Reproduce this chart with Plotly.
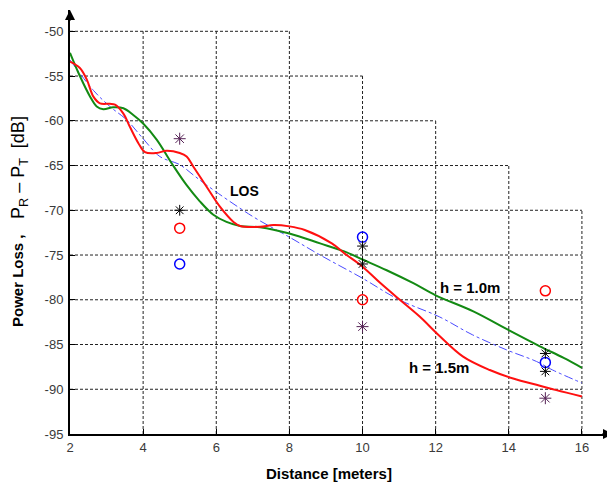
import plotly.graph_objects as go

# ---- data ----
green_x = [2.0, 2.27, 2.55, 2.73, 2.91, 3.18, 3.46, 3.73, 4.0, 4.37, 4.82, 5.19, 5.55, 5.92,
           6.28, 6.65, 7.2, 8.0, 8.84, 9.5, 10.0, 10.66, 11.39, 12.0, 13.03, 14.0, 14.85, 15.5, 16.0]
green_y = [-52.4, -55.0, -57.3, -58.4, -58.7, -58.5, -58.6, -59.35, -60.3, -62.1, -65.0, -67.2, -69.0, -70.5,
           -71.3, -71.75, -71.9, -72.6, -73.7, -74.6, -75.5, -76.7, -78.15, -79.5, -81.3, -83.4, -85.2, -86.5, -87.6]

red_x = [2.0, 2.27, 2.46, 2.64, 2.82, 3.09, 3.23, 3.46, 3.64, 3.87, 4.05, 4.37, 4.64, 5.0, 5.19, 5.37,
         5.74, 6.1, 6.47, 6.65, 7.2, 7.56, 8.0, 8.42, 9.16, 9.5, 10.0, 10.48, 11.02, 11.57, 12.07,
         12.75, 13.48, 14.12, 14.85, 15.3, 16.0]
red_y = [-53.4, -54.1, -55.4, -57.3, -58.05, -58.1, -58.2, -59.2, -60.7, -62.5, -63.5, -63.6, -63.35, -63.6,
         -64.0, -65.1, -67.4, -69.6, -71.3, -71.75, -71.85, -71.65, -71.8, -72.2, -73.7, -74.8, -76.3,
         -78.1, -80.0, -81.9, -83.9, -86.35, -87.85, -88.8, -89.6, -90.1, -90.8]

los_x = [2.0, 2.64, 3.09, 3.55, 4.0, 4.46, 5.0, 5.37, 5.74, 7.0, 8.0, 8.84, 10.0, 11.0, 12.1, 13.0,
         13.94, 14.76, 15.2, 16.0]
los_y = [-53.2, -56.6, -58.4, -59.9, -62.0, -64.0, -64.9, -66.05, -67.2, -70.7, -73.0, -75.0, -77.6,
         -80.0, -81.9, -83.9, -85.6, -86.9, -87.85, -89.3]

red_circ_x = [5, 10, 15]
red_circ_y = [-72, -80, -79]
blue_circ_x = [5, 10, 15]
blue_circ_y = [-76, -73, -87]
black_star_x = [5, 10, 10, 15, 15]
black_star_y = [-70, -74, -76, -86, -88]
purple_star_x = [5, 10, 15]
purple_star_y = [-62, -83, -91]

x_ticks = [2, 4, 6, 8, 10, 12, 14, 16]
y_ticks = [-95, -90, -85, -80, -75, -70, -65, -60, -55, -50]

X_RANGE = [2, 16.85]
Y_RANGE = [-95, -47.62]

fig = go.Figure()

# staircase dashed grid
grid_style = dict(color="#222222", width=1, dash="3px,2px")
for yv in y_ticks[1:]:
    x_end = min(16, 8 + 2 * (-50 - yv) / 5)
    fig.add_shape(type="line", x0=2, x1=x_end, y0=yv, y1=yv, xref="x", yref="y",
                  line=grid_style, layer="below")
for xv in x_ticks[1:]:
    y_top = min(-50, -50 - (xv - 8) * 2.5)
    fig.add_shape(type="line", x0=xv, x1=xv, y0=-95, y1=y_top, xref="x", yref="y",
                  line=grid_style, layer="below")

fig.add_trace(go.Scatter(x=los_x, y=los_y, mode="lines", line=dict(color="#4a4aff", width=1, dash="dashdot"),
                         line_shape="spline"))
fig.add_trace(go.Scatter(x=green_x, y=green_y, mode="lines", line=dict(color="#138a13", width=2),
                         line_shape="spline"))
fig.add_trace(go.Scatter(x=red_x, y=red_y, mode="lines", line=dict(color="#ff1010", width=2),
                         line_shape="spline"))

fig.add_trace(go.Scatter(x=red_circ_x, y=red_circ_y, mode="markers",
                         marker=dict(symbol="circle-open", size=10, color="#ff0000", line=dict(width=1.5, color="#ff0000"))))
fig.add_trace(go.Scatter(x=blue_circ_x, y=blue_circ_y, mode="markers",
                         marker=dict(symbol="circle-open", size=10, color="#0000ff", line=dict(width=1.5, color="#0000ff"))))
fig.add_trace(go.Scatter(x=black_star_x, y=black_star_y, mode="markers",
                         marker=dict(symbol="asterisk-open", size=9, color="#000000", line=dict(width=1, color="#000000"))))
fig.add_trace(go.Scatter(x=purple_star_x, y=purple_star_y, mode="markers",
                         marker=dict(symbol="asterisk-open", size=10, color="#552255", line=dict(width=1, color="#552255"))))

tick_font = dict(family="Liberation Sans, Arial, sans-serif", size=13, color="#3a3a3a")
fig.update_xaxes(range=X_RANGE, tickvals=x_ticks, ticktext=[str(v) for v in x_ticks],
                 showgrid=False, zeroline=False, showline=True, linecolor="black", linewidth=2,
                 ticks="inside", ticklen=5, tickwidth=1, tickcolor="black", tickfont=tick_font)
fig.update_yaxes(range=Y_RANGE, tickvals=y_ticks, ticktext=[str(v) for v in y_ticks],
                 showgrid=False, zeroline=False, showline=True, linecolor="black", linewidth=2,
                 ticks="inside", ticklen=5, tickwidth=1, tickcolor="black", tickfont=tick_font,
                 ticklabelstandoff=2)

# axis arrows
fig.add_annotation(x=1, y=0, xref="paper", yref="paper", ax=-12, ay=0, text="", showarrow=True,
                   arrowhead=2, arrowsize=1, arrowwidth=2, arrowcolor="black")
fig.add_annotation(x=0, y=1, xref="paper", yref="paper", ax=0, ay=12, text="", showarrow=True,
                   arrowhead=2, arrowsize=1, arrowwidth=2, arrowcolor="black")

lab_font = dict(family="Liberation Sans, Arial, sans-serif", size=14, color="black")
fig.add_annotation(x=6.76, y=-67.84, text="<b>LOS</b>", showarrow=False, font=lab_font)
fig.add_annotation(x=12.94, y=-78.68, text="<b>h = 1.0m</b>", showarrow=False,
                   font=dict(family="Liberation Sans, Arial, sans-serif", size=15, color="black"))
fig.add_annotation(x=12.09, y=-87.6, text="<b>h = 1.5m</b>", showarrow=False,
                   font=dict(family="Liberation Sans, Arial, sans-serif", size=15, color="black"))

# page offset (browser body margin) and layout in page pixels
OFF = 8
W, H = 615 - OFF, 487 - OFF
L, R, T, B = 70 - OFF, 2, 10 - OFF, 53
pw, ph = W - L - R, H - T - B

def px_to_paper(px, py):
    return (px - OFF - L) / pw, (H - B - (py - OFF)) / ph

# axis titles (positions given in page pixels)
ax_, ay_ = px_to_paper(329, 473)
fig.add_annotation(x=ax_, y=ay_, xref="paper", yref="paper", xanchor="center", yanchor="middle",
                   text="<b>Distance [meters]</b>",
                   showarrow=False, font=dict(family="Liberation Sans, Arial, sans-serif", size=15, color="black"))
ax_, ay_ = px_to_paper(17, 281)
fig.add_annotation(x=ax_, y=ay_, xref="paper", yref="paper", xanchor="center", yanchor="middle",
                   text="<b>Power Loss ,</b>", textangle=-90,
                   showarrow=False, font=dict(family="Liberation Sans, Arial, sans-serif", size=15, color="black"))
ax_, ay_ = px_to_paper(19, 168)
fig.add_annotation(x=ax_, y=ay_, xref="paper", yref="paper", xanchor="center", yanchor="middle",
                   text="P<sub>R</sub> – P<sub>T</sub>  [dB]", textangle=-90,
                   showarrow=False, font=dict(family="Liberation Sans, Arial, sans-serif", size=18, color="black"))

fig.update_layout(width=W, height=H, margin=dict(l=L, r=R, t=T, b=B),
                  paper_bgcolor="white", plot_bgcolor="white", showlegend=False)

fig.write_html("out.html")
